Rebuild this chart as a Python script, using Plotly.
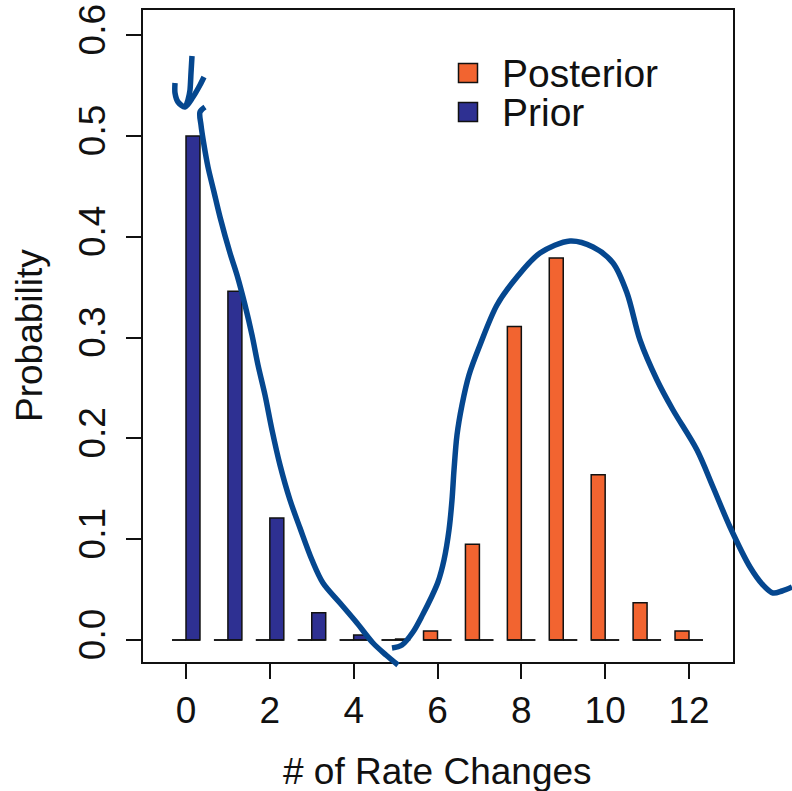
import plotly.graph_objects as go

# ---------------- data ----------------
categories = list(range(13))
posterior = [0.0, 0.0, 0.0, 0.0, 0.0, 0.0, 0.009, 0.095, 0.311, 0.379, 0.164, 0.037, 0.009]
prior = [0.500, 0.346, 0.121, 0.027, 0.005, 0.001, 0.0, 0.0, 0.0, 0.0, 0.0, 0.0, 0.0]
series_names = ["Posterior", "Prior"]
series_colors = ["#F26430", "#2E3092"]
x_ticks = [0, 2, 4, 6, 8, 10, 12]
y_ticks = [0.0, 0.1, 0.2, 0.3, 0.4, 0.5, 0.6]
x_title = "# of Rate Changes"
y_title = "Probability"

# freehand pen strokes drawn over the chart (canvas pixel coordinates)
arrow_x = [192, 191, 190, 188, 186]
arrow_y = [56, 73, 90, 100, 106]
arrow_hook_x = [175, 175, 178, 185, 193, 200, 204]
arrow_hook_y = [83, 93, 102, 107, 97, 85, 77]
prior_curve_x = [205, 200, 201, 204, 208, 214, 220, 230, 237, 245, 252, 258, 265, 272, 280, 290, 300, 312, 323, 340, 357, 373, 386, 398]
prior_curve_y = [107, 112, 125, 145, 167, 192, 217, 253, 275, 305, 335, 365, 395, 430, 465, 500, 528, 560, 583, 603, 623, 643, 655, 665]
post_curve_x = [392, 402, 413, 423, 431, 438, 444, 449, 452, 454, 457, 462, 469, 480, 497, 517, 540, 570, 593, 613, 627, 640, 657, 673, 697, 713, 730, 750, 763, 773, 782, 792]
post_curve_y = [648, 645, 632, 614, 598, 582, 560, 530, 500, 470, 435, 405, 375, 345, 305, 277, 253, 241, 247, 263, 293, 340, 380, 410, 450, 487, 527, 567, 585, 593, 591, 587]
pen_color = "#05478F"

W, H = 792, 791
FONT = "Liberation Sans, Arial, Helvetica, sans-serif"
BAR_W = 1.0 / 3.0

fig = go.Figure()

# posterior (left of tick) and prior (right of tick)
for vals, name, col, off in [(posterior, series_names[0], series_colors[0], -BAR_W),
                             (prior, series_names[1], series_colors[1], 0.0)]:
    fig.add_trace(go.Bar(
        x=categories, y=vals, name=name, width=BAR_W, offset=off,
        marker=dict(color=col, line=dict(color="#111111", width=1.5)),
        showlegend=False, xaxis="x", yaxis="y",
    ))

# zero line under each bar pair (R draws zero-height bars as lines)
bx, by = [], []
for c in categories:
    bx += [c - BAR_W, c + BAR_W, None]
    by += [0, 0, None]
fig.add_trace(go.Scatter(x=bx, y=by, mode="lines", line=dict(color="#111111", width=1.5),
                         showlegend=False, hoverinfo="skip", xaxis="x", yaxis="y"))

# legend (R style, no box)
leg_sq_x = 468
leg_rows_y = [73, 112]
leg_text_x = 500
for name, col, yy in zip(series_names, series_colors, leg_rows_y):
    fig.add_trace(go.Scatter(x=[leg_sq_x], y=[yy], mode="markers",
                             marker=dict(symbol="square", size=19, color=col,
                                         line=dict(color="#111111", width=1.5)),
                             showlegend=False, hoverinfo="skip", xaxis="x2", yaxis="y2"))
    fig.add_annotation(x=leg_text_x, y=yy, xref="x2", yref="y2", text=name, showarrow=False,
                       xanchor="left", yanchor="middle",
                       font=dict(family=FONT, size=39, color="#111111"))

# pen strokes
for sx, sy, sm in [(arrow_x, arrow_y, 0.6), (arrow_hook_x, arrow_hook_y, 0.8),
                   (prior_curve_x, prior_curve_y, 0.9), (post_curve_x, post_curve_y, 0.9)]:
    fig.add_trace(go.Scatter(x=sx, y=sy, mode="lines",
                             line=dict(color=pen_color, width=5.5, shape="spline", smoothing=sm),
                             showlegend=False, hoverinfo="skip", xaxis="x2", yaxis="y2"))

x_dom = [143 / W, 733 / W]
y_dom = [1 - 662 / H, 1 - 10 / H]

fig.update_layout(
    width=W, height=H, autosize=False,
    margin=dict(l=0, r=0, t=0, b=0, pad=0),
    paper_bgcolor="white", plot_bgcolor="rgba(0,0,0,0)",
    barmode="overlay", showlegend=False,
    font=dict(family=FONT, color="#111111"),
    xaxis=dict(domain=x_dom, range=[-1.026, 13.05], anchor="y",
               tickmode="array", tickvals=x_ticks, ticktext=[str(t) for t in x_ticks],
               ticks="outside", ticklen=15, tickwidth=1.5, tickcolor="#111111",
               showline=True, mirror=True, linecolor="#111111", linewidth=1.5,
               showgrid=False, zeroline=False, automargin=False,
               tickfont=dict(family=FONT, size=37, color="#111111")),
    yaxis=dict(domain=y_dom, range=[-0.0218, 0.625], anchor="x",
               tickmode="array", tickvals=y_ticks, ticktext=[f"{t:.1f}" for t in y_ticks],
               tickangle=-90, ticklabelstandoff=6,
               ticks="outside", ticklen=15, tickwidth=1.5, tickcolor="#111111",
               showline=True, mirror=True, linecolor="#111111", linewidth=1.5,
               showgrid=False, zeroline=False, automargin=False,
               tickfont=dict(family=FONT, size=37, color="#111111")),
    xaxis2=dict(domain=[0, 1], range=[0, W], anchor="y2", visible=False, fixedrange=True),
    yaxis2=dict(domain=[0, 1], range=[H, 0], anchor="x2", visible=False, fixedrange=True),
)

# axis titles
fig.add_annotation(x=(143 + 733) / 2 / W, y=1 - 771 / H, xref="paper", yref="paper",
                   text=x_title, showarrow=False, xanchor="center", yanchor="middle",
                   font=dict(family=FONT, size=37, color="#111111"))
fig.add_annotation(x=29 / W, y=1 - 336 / H, xref="paper", yref="paper",
                   text=y_title, showarrow=False, textangle=-90, xanchor="center", yanchor="middle",
                   font=dict(family=FONT, size=37, color="#111111"))

fig.write_html("out.html")
